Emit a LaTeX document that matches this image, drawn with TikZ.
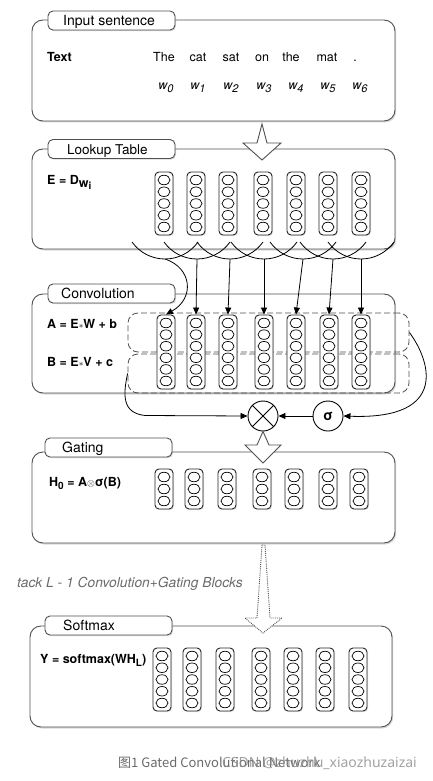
\documentclass[tikz,border=0pt]{standalone}
\usepackage{fontspec}
\setmainfont{TeX Gyre Heros}
\newfontfamily\cjk{Noto Sans CJK SC}
\newfontfamily\wmfont{Noto Sans}
\usetikzlibrary{shapes.geometric,shadows,arrows.meta,calc}
\definecolor{edge}{HTML}{505050}
\definecolor{capgray}{HTML}{6A6A6A}
\definecolor{wmgray}{HTML}{8A8A8A}
\newcommand{\veccol}[5]{%
  \node[colbox, minimum height={(#4-1)*#5+16}] (#1) at (#2,{#3+(#4-1)*#5/2}) {};
  \foreach \ci in {1,...,#4} {\node[cell] (#1-\ci) at (#2,{#3+(\ci-1)*#5}) {};}
}
\begin{document}
\begin{tikzpicture}[x=1pt,y=-1pt,
  panel/.style={draw=edge, line width=0.9pt, rounded corners=11pt, fill=white, inner sep=0pt,
    drop shadow={shadow xshift=1.2pt, shadow yshift=-1.5pt, opacity=0.3}},
  tabbox/.style={draw=edge, line width=0.9pt, rounded corners=5pt, fill=white, inner sep=0pt,
    minimum width=127pt, minimum height=19pt,
    drop shadow={shadow xshift=1pt, shadow yshift=-1.2pt, opacity=0.3}},
  title/.style={anchor=base west, inner sep=0pt, font=\fontsize{14}{16}\selectfont},
  lbl/.style={anchor=base west, inner sep=0pt, font=\fontsize{12.5}{14}\selectfont\bfseries},
  word/.style={anchor=base, inner sep=0pt, font=\fontsize{12.5}{14}\selectfont},
  wsym/.style={anchor=base, inner sep=0pt, font=\fontsize{12.5}{14}\selectfont\itshape},
  colbox/.style={rectangle, draw=black!85, line width=0.9pt, rounded corners=4pt, minimum width=18pt,
    fill=white, inner sep=0pt, drop shadow={shadow xshift=1pt, shadow yshift=-1pt, opacity=0.25}},
  cell/.style={ellipse, draw=black, line width=0.7pt, minimum width=12pt, minimum height=9.5pt,
    inner sep=0pt, fill=white},
  dbox/.style={draw=edge, line width=0.8pt, dash pattern=on 6pt off 3pt, rounded corners=10pt},
  conn/.style={draw=black, line width=0.8pt, -{Triangle[length=7pt,width=6pt]}},
  cupline/.style={draw=black, line width=0.8pt},
  harrow/.style={draw=edge, fill=white, line width=0.9pt, line join=miter},
  opnode/.style={circle, draw=black, line width=0.9pt, minimum size=30pt, inner sep=0pt, fill=white},
]
\useasboundingbox (0,0) rectangle (432,781);

% ---------------- Input sentence ----------------
\node[panel, minimum width=363pt, minimum height=101pt] (inP) at (213.5,70.5) {};
\node[tabbox] (inT) at (111.5,20.5) {};
\node[title] (inTt) at (63,26) {Input sentence};
\node[lbl] (txt) at (47,62) {Text};
\foreach \w/\x [count=\k from 0] in {The/164,cat/198,sat/231,on/262,the/291,mat/327,./355} {
  \node[word] (word\k) at (\x,62) {\w};
}
\foreach \x [count=\k from 0] in {166,198,231,264,296,328,360} {
  \node[wsym] (wi\k) at (\x,89.5) {w\raisebox{-0.4ex}{\fontsize{11}{12}\selectfont\k}};
}

% ---------------- Lookup table ----------------
\node[panel, minimum width=363pt, minimum height=100pt] (lkP) at (213.5,199) {};
\node[tabbox] (lkT) at (111.5,149) {};
\node[title, font=\fontsize{13.5}{16}\selectfont] (lkTt) at (67,154) {Lookup Table};
\node[lbl] (elbl) at (47,184) {E = D\raisebox{-0.45ex}{w\raisebox{-0.4ex}{\fontsize{10}{11}\selectfont i}}};
\foreach \x [count=\k from 0] in {164,196,228,263,296,328,361} {
  \veccol{lk\k}{\x}{180}{5}{11.75}
}
\draw[harrow] (262,124) -- (257,143) -- (243,143) -- (262,160) -- (281,143) -- (267,143) -- cycle;

% ---------------- Convolution ----------------
\node[panel, minimum width=363pt, minimum height=99pt] (cvP) at (213.5,343.5) {};
\node[tabbox] (cvT) at (111.5,293.5) {};
\node[title] (cvTt) at (61,298) {Convolution};
\node[lbl] (albl) at (47,328) {A = E{\fontsize{9}{10}\selectfont$\ast$}W + b};
\node[lbl] (blbl) at (47,366) {B = E{\fontsize{9}{10}\selectfont$\ast$}V + c};
\node[dbox, minimum width=281pt, minimum height=39pt, inner sep=0pt] (Abox) at (268.5,332.5) {};
\node[dbox, minimum width=281pt, minimum height=39pt, inner sep=0pt] (Bbox) at (268.5,373.5) {};
\foreach \x [count=\k from 0] in {166,196,228,264,296,329,361} {
  \veccol{cv\k}{\x}{323}{6}{11.6}
}

% cups (convolution windows)
\foreach \b [count=\k from 0] in {165,197,230,264,303,333,361} {
  \draw[cupline] (\b-33,242) .. controls (\b-25.4,252.7) and (\b-13.1,259) .. (\b,259)
     .. controls (\b+13.1,259) and (\b+25.4,252.7) .. (\b+33,242);
  \coordinate (cb\k) at (\b,259);
}
\draw[conn] (cb0) .. controls (192,268) and (195,298) .. (cv0.north);
\foreach \k in {1,...,6} {\draw[conn] (cb\k) -- (cv\k.north);}

% gating operation
\node[opnode] (otimes) at (263,416) {};
\draw[line width=0.8pt] (otimes.north east) -- (otimes.south west);
\draw[line width=0.8pt] (otimes.north west) -- (otimes.south east);
\node[opnode, font=\fontsize{14}{16}\selectfont\bfseries] (sig) at (328,416) {σ};
\draw[conn] (sig.west) -- (otimes.east);
\draw[conn] (Abox.east) .. controls (430,360) and (450,420) .. (sig.east);
\draw[conn] (Bbox.west) .. controls (123,395) and (122,413) .. (145,415.5) -- (otimes.west);

% ---------------- Gating ----------------
\node[panel, minimum width=363pt, minimum height=91pt] (gtP) at (213.5,497.5) {};
\node[tabbox] (gtT) at (108.5,447.5) {};
\node[title] (gtTt) at (62,452) {Gating};
\node[lbl] (hlbl) at (49,486) {H\raisebox{-0.45ex}{\fontsize{10}{11}\selectfont 0} = A{\fontsize{10}{11}\selectfont\mdseries$\otimes$}σ(B)};
\foreach \x [count=\k from 0] in {164,194,227,262,294,328,359} {
  \veccol{gt\k}{\x}{477}{3}{12}
}
\draw[harrow] (otimes.south) -- (257,445) -- (245,445) -- (263,463) -- (281,445) -- (269,445) -- cycle;

% stack text
\node[anchor=base west, inner sep=0pt, text=capgray, font=\fontsize{13.8}{16}\selectfont\itshape] (stk) at (17,587) {tack L - 1 Convolution+Gating Blocks};

% ---------------- Softmax ----------------
\node[panel, minimum width=362pt, minimum height=101pt] (smP) at (211,676.5) {};
\node[tabbox] (smT) at (108.5,625.5) {};
\node[title] (smTt) at (63,630) {Softmax};
\node[lbl] (ylbl) at (40,663) {Y = softmax(WH\raisebox{-0.45ex}{\fontsize{10}{11}\selectfont L})};
\foreach \x [count=\k from 0] in {162,192,225,261,293,325,358} {
  \veccol{sm\k}{\x}{656}{5}{11.75}
}
\draw[harrow, densely dotted] (262,545) -- (257,618) -- (245,618) -- (263,633) -- (282,618) -- (270,618) -- (265,545) -- cycle;

% caption + watermark
\node[anchor=west, inner sep=0pt, text=capgray, font=\fontsize{13}{15}\selectfont\cjk] (cap) at (118,763) {图1 Gated Convolutional Network};
\node[anchor=east, inner sep=0pt, text=wmgray, opacity=0.8, font=\fontsize{14}{16}\selectfont\wmfont] (wm) at (417,763) {CSDN @zhuzhu\_xiaozhuzaizai};
\end{tikzpicture}
\end{document}
